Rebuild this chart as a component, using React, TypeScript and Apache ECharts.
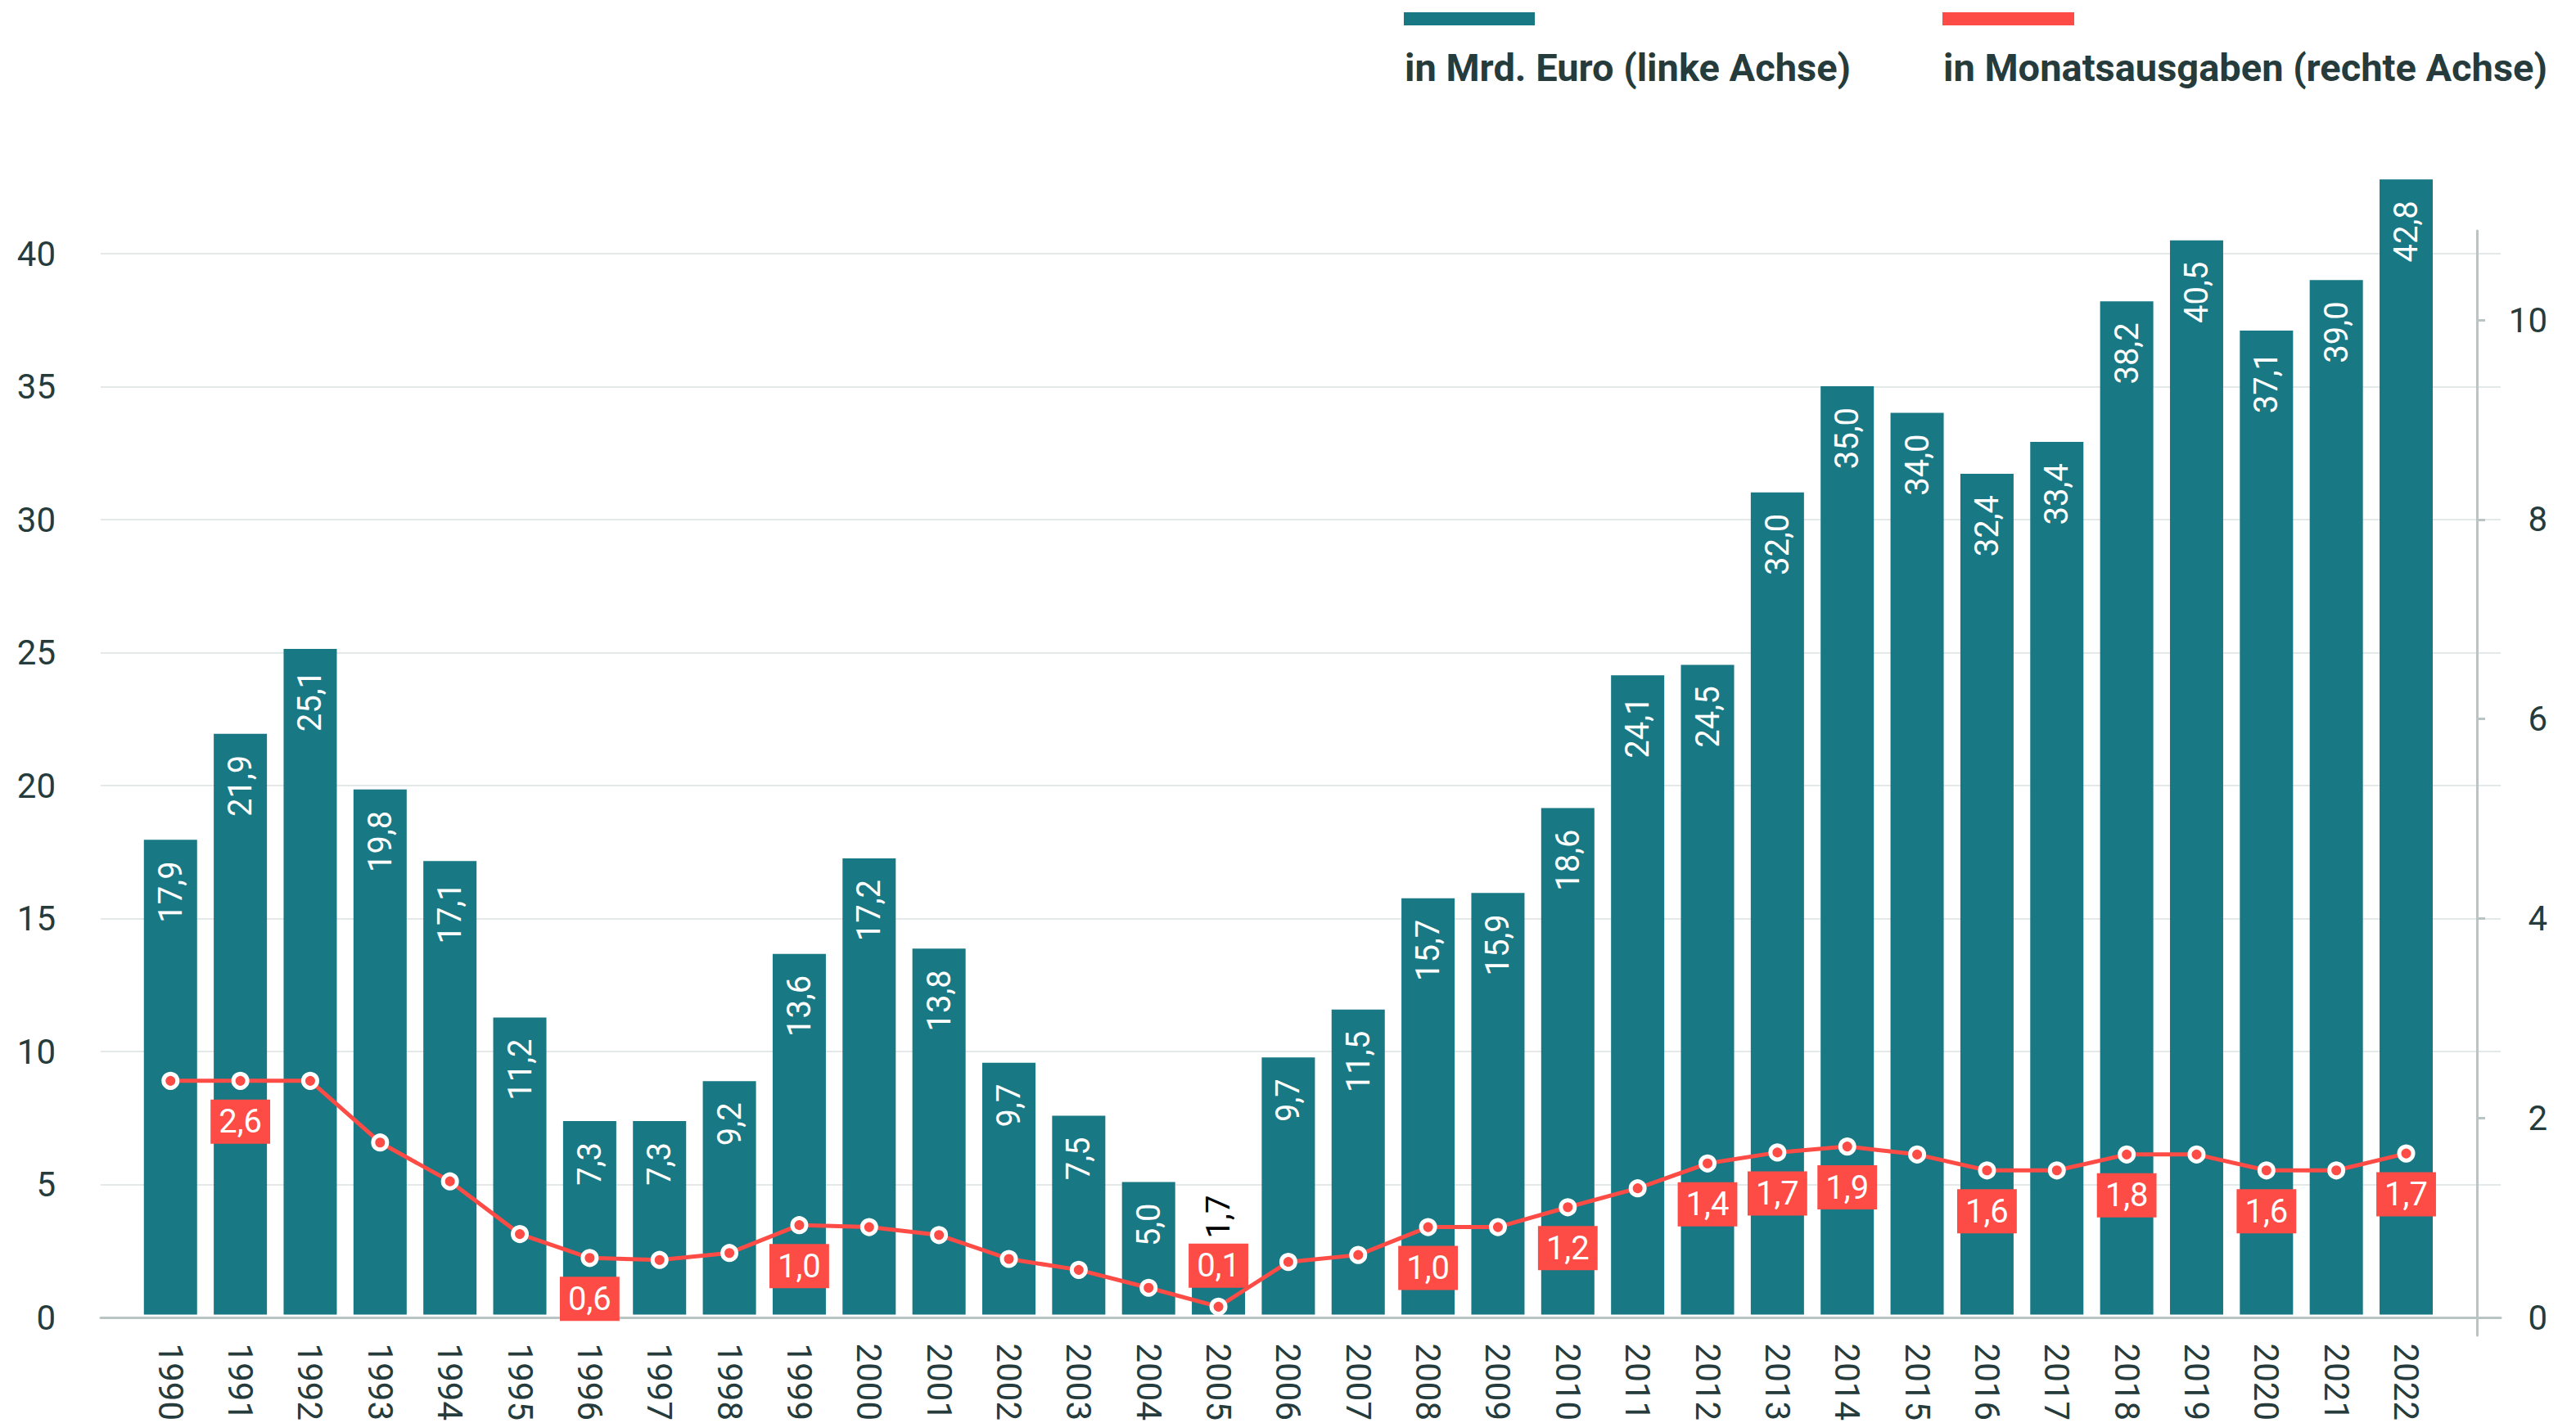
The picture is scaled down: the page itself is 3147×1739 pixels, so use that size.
import React, { useEffect, useRef } from "react";
import * as echarts from "echarts";

const years = [
  "1990", "1991", "1992", "1993", "1994", "1995", "1996", "1997", "1998", "1999",
  "2000", "2001", "2002", "2003", "2004", "2005", "2006", "2007", "2008", "2009",
  "2010", "2011", "2012", "2013", "2014", "2015", "2016", "2017", "2018", "2019",
  "2020", "2021", "2022",
];

// bar heights (Mrd. Euro, left axis)
const barValues = [
  17.9, 21.9, 25.1, 19.8, 17.1, 11.2, 7.3, 7.3, 8.8, 13.6,
  17.2, 13.8, 9.5, 7.5, 5.0, 1.7, 9.7, 11.5, 15.7, 15.9,
  19.1, 24.1, 24.5, 31.0, 35.0, 34.0, 31.7, 32.9, 38.2, 40.5,
  37.1, 39.0, 42.8,
];

// bar labels as printed
const barLabels = [
  "17,9", "21,9", "25,1", "19,8", "17,1", "11,2", "7,3", "7,3", "9,2", "13,6",
  "17,2", "13,8", "9,7", "7,5", "5,0", "1,7", "9,7", "11,5", "15,7", "15,9",
  "18,6", "24,1", "24,5", "32,0", "35,0", "34,0", "32,4", "33,4", "38,2", "40,5",
  "37,1", "39,0", "42,8",
];

// line values (Monatsausgaben, right axis)
const lineValues = [
  2.35, 2.35, 2.35, 1.73, 1.34, 0.81, 0.57, 0.55, 0.62, 0.9,
  0.88, 0.8, 0.56, 0.45, 0.27, 0.08, 0.53, 0.6, 0.88, 0.88,
  1.08, 1.27, 1.52, 1.63, 1.69, 1.61, 1.45, 1.45, 1.61, 1.61,
  1.45, 1.45, 1.62,
];

// line labels as printed ("" = no label)
const lineLabels = [
  "", "2,6", "", "", "", "", "0,6", "", "", "1,0",
  "", "", "", "", "", "0,1", "", "", "1,0", "",
  "1,2", "", "1,4", "1,7", "1,9", "", "1,6", "", "1,8", "",
  "1,6", "", "1,7",
];

const leftTickInterval = 5;
const rightTickValues = [0, 2, 4, 6, 8, 10];
const legendNames = ["in Mrd. Euro (linke Achse)", "in Monatsausgaben (rechte Achse)"];

const TEAL = "#187884";
const RED = "#fd4b45";
const TEXT = "#263b3b";
const GRID = "#e3e8e8";
const AXIS = "#b9c4c4";
const FONT = "Roboto";

export default function App() {
  const ref = useRef<HTMLDivElement>(null);

  useEffect(() => {
    document.body.style.margin = "0";
    if (!ref.current) return;
    const chart = echarts.init(ref.current, null, { renderer: "svg" });

    const H = 1739;
    const plotTop = 282;
    const zeroY = 1610;
    const rightBottom = 1632;
    const leftPx = 32.5;
    const rightPx = 121.9;
    const plotH = zeroY - plotTop;
    const leftMax = plotH / leftPx;
    const rightMax = plotH / rightPx;
    const rightMin = -(rightBottom - zeroY) / rightPx;

    const option: any = {
      animation: false,
      backgroundColor: "#fff",
      textStyle: { fontFamily: FONT },
      grid: [
        { left: 123, right: 92, top: plotTop, bottom: H - zeroY },
        { left: 165.6, right: 164.8, top: plotTop, bottom: H - zeroY },
        { left: 123, right: 121, top: plotTop, bottom: H - rightBottom },
      ],
      xAxis: [
        {
          type: "value",
          gridIndex: 0,
          min: 0,
          max: 1,
          axisLine: { show: true, onZero: false, lineStyle: { color: AXIS, width: 3 } },
          axisTick: { show: false },
          axisLabel: { show: false },
          splitLine: { show: false },
        },
        {
          type: "category",
          gridIndex: 1,
          data: years,
          boundaryGap: true,
          axisLine: { show: false },
          axisTick: { show: false },
          axisLabel: {
            interval: 0,
            rotate: -90,
            margin: 35,
            fontSize: 42,
            color: TEXT,
            fontFamily: FONT,
          },
          splitLine: { show: false },
        },
        {
          type: "value",
          gridIndex: 2,
          min: 0,
          max: 1,
          show: false,
        },
      ],
      yAxis: [
        {
          type: "value",
          gridIndex: 0,
          min: 0,
          max: leftMax,
          interval: leftTickInterval,
          axisLine: { show: false },
          axisTick: { show: false },
          axisLabel: {
            fontSize: 42,
            color: TEXT,
            margin: 55,
            fontFamily: FONT,
            showMaxLabel: false,
          },
          splitLine: {
            show: true,
            showMaxLine: false,
            lineStyle: { color: GRID, width: 2 },
          },
        },
        { type: "value", gridIndex: 1, min: 0, max: leftMax, show: false },
        { type: "value", gridIndex: 1, min: 0, max: rightMax, show: false },
        {
          type: "value",
          gridIndex: 2,
          position: "right",
          min: rightMin,
          max: rightMax,
          axisLine: { show: true, onZero: false, lineStyle: { color: AXIS, width: 3 } },
          axisTick: {
            show: true,
            length: 10,
            customValues: rightTickValues,
            lineStyle: { color: AXIS, width: 3 },
          },
          axisLabel: {
            customValues: rightTickValues,
            align: "right",
            margin: 86,
            fontSize: 42,
            color: TEXT,
            fontFamily: FONT,
          },
          splitLine: { show: false },
        },
      ],
      series: [
        {
          type: "bar",
          xAxisIndex: 1,
          yAxisIndex: 1,
          barWidth: 65,
          clip: false,
          itemStyle: { color: TEAL },
          label: {
            show: true,
            position: "insideTop",
            rotate: 90,
            align: "right",
            verticalAlign: "middle",
            distance: 26,
            color: "#fff",
            fontSize: 40,
            fontFamily: FONT,
            formatter: (p: any) => barLabels[p.dataIndex],
          },
          data: barValues.map((v) =>
            v < 3
              ? {
                  value: v,
                  label: {
                    position: "top",
                    align: "left",
                    verticalAlign: "middle",
                    distance: 38,
                    color: "#000",
                  },
                }
              : v
          ),
          z: 2,
        },
        {
          type: "line",
          xAxisIndex: 1,
          yAxisIndex: 2,
          symbol: "circle",
          symbolSize: 17,
          clip: false,
          lineStyle: { color: RED, width: 5 },
          itemStyle: { color: RED, borderColor: "#fff", borderWidth: 5 },
          label: {
            show: false,
            fontSize: 40,
            color: "#fff",
            backgroundColor: RED,
            padding: [7, 10],
            distance: 12,
            fontFamily: FONT,
          },
          data: lineValues.map((v, i) =>
            lineLabels[i]
              ? {
                  value: v,
                  label: {
                    show: true,
                    formatter: lineLabels[i],
                    position: v < 0.2 ? "top" : "bottom",
                  },
                }
              : { value: v }
          ),
          z: 5,
        },
      ],
      graphic: [
        { type: "rect", left: 1715, top: 15, shape: { width: 160, height: 16 }, style: { fill: TEAL } },
        { type: "rect", left: 2373, top: 15, shape: { width: 161, height: 16 }, style: { fill: RED } },
        {
          type: "text",
          x: 1716,
          y: 82,
          style: {
            text: legendNames[0],
            fill: TEXT,
            font: `bold 47px ${FONT}`,
            verticalAlign: "middle",
            align: "left",
          },
        },
        {
          type: "text",
          x: 2374,
          y: 82,
          style: {
            text: legendNames[1],
            fill: TEXT,
            font: `bold 47px ${FONT}`,
            verticalAlign: "middle",
            align: "left",
          },
        },
      ],
    };

    chart.setOption(option);
    return () => chart.dispose();
  }, []);

  return <div ref={ref} style={{ width: 3147, height: 1739 }} />;
}
